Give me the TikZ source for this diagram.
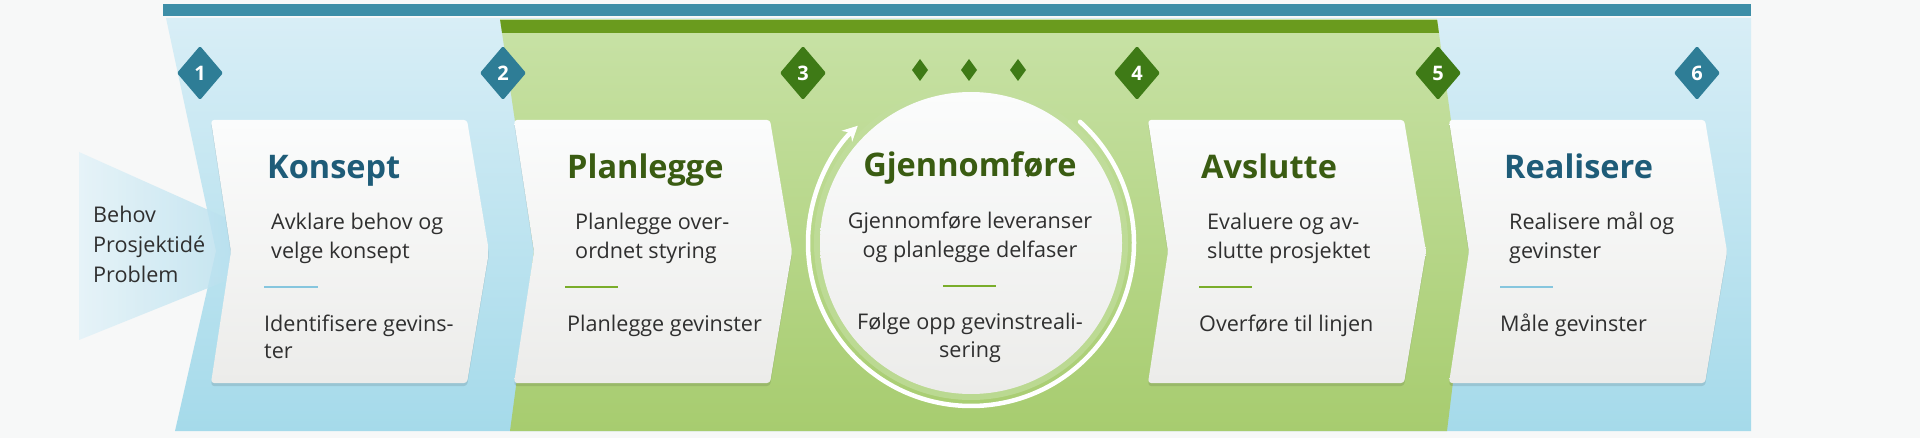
\documentclass[tikz,border=0pt]{standalone}
\usepackage{fontspec}
\setmainfont{Open Sans}
\usetikzlibrary{arrows.meta}
\definecolor{bg}{HTML}{F7F8F8}
\definecolor{tealbar}{HTML}{3D8EA7}
\definecolor{bluetop}{HTML}{D8EEF6}
\definecolor{bluebot}{HTML}{A5DAEA}
\definecolor{greentop}{HTML}{C8E2A6}
\definecolor{greenbot}{HTML}{A7CC6F}
\definecolor{greenbar}{HTML}{6A9B1E}
\definecolor{tealdia}{HTML}{2E7D96}
\definecolor{dgreen}{HTML}{3E7A16}
\definecolor{ttlblue}{HTML}{1E5C78}
\definecolor{ttlgreen}{HTML}{3A5C12}
\definecolor{bodytxt}{HTML}{2F2F2F}
\definecolor{divblue}{HTML}{86C6DE}
\definecolor{divgreen}{HTML}{7AAD2A}
\definecolor{cardtop}{HTML}{FBFCFC}
\definecolor{cardbot}{HTML}{ECECEA}
\definecolor{trileft}{HTML}{E2F2F8}
\definecolor{triright}{HTML}{A6D8EA}
\definecolor{halo}{HTML}{C2DE9E}
\newcommand\cardshape[2]{\path[#2] (#1,120) -- ++(256,0) -- ++(22,131.5) -- ++(-22,131.5) -- ++(-256,0) -- ++(20,-131.5) -- cycle;}
\newcommand\dia[5]{\fill[#4, rounded corners=1.5pt] (#1,#2) ++(0,-27) -- ++(23,27) -- ++(-23,27) -- ++(-23,-27) -- cycle;
  \node[digit] (#3) at (#1,#2) {#5};}
\begin{document}
\begin{tikzpicture}[x=1pt,y=-1pt,
  digit/.style={font=\bfseries\fontsize{20}{20}\selectfont, text=white, inner sep=0pt},
  ttl/.style={font=\bfseries\fontsize{32.5}{32.5}\selectfont, anchor=base west, inner sep=0pt},
  txt/.style={font=\fontsize{21.6}{29}\selectfont, text=bodytxt, anchor=base west, inner sep=0pt},
  ctxt/.style={txt, anchor=base},
  divider/.style={line width=2.5pt}]
\useasboundingbox (0,0) rectangle (1920,438);
\fill[bg] (0,0) rectangle (1920,438);
% top bar
\fill[tealbar] (163,4) rectangle (1751,16);
% blue band
\shade[top color=bluetop, bottom color=bluebot] (166,18) -- (1751,18) -- (1751,431) -- (175,431) -- (216,251) -- cycle;
% green band
\shade[top color=greentop, bottom color=greenbot] (500,19) -- (1437,19) -- (1469,251) -- (1447,431) -- (510,431) -- (534,251) -- cycle;
\begin{scope}
  \clip (500,19) -- (1437,19) -- (1469,251) -- (1447,431) -- (510,431) -- (534,251) -- cycle;
  \fill[greenbar] (490,20) rectangle (1450,33);
\end{scope}
% input triangle
\shade[left color=trileft, right color=triright, fill opacity=0.8] (79,152) -- (300,251) -- (79,340) -- cycle;
\node[txt] (behov) at (93,223) {Behov};
\node[txt] (ide) at (93,253) {Prosjektidé};
\node[txt] (problem) at (93,283) {Problem};
% diamonds
\dia{200}{73}{d1}{tealdia}{1}
\dia{503}{73}{d2}{tealdia}{2}
\dia{803}{73}{d3}{dgreen}{3}
\dia{1137}{73}{d4}{dgreen}{4}
\dia{1438}{73}{d5}{dgreen}{5}
\dia{1697}{73}{d6}{tealdia}{6}
\fill[dgreen] (920,59) -- (928,70) -- (920,81) -- (912,70) -- cycle;
\fill[dgreen] (969,59) -- (977,70) -- (969,81) -- (961,70) -- cycle;
\fill[dgreen] (1018,59) -- (1026,70) -- (1018,81) -- (1010,70) -- cycle;
% card shadows
\cardshape{211}{fill=black, fill opacity=0.10, rounded corners=3pt, yshift=-3pt}
\cardshape{514}{fill=black, fill opacity=0.10, rounded corners=3pt, yshift=-3pt}
\cardshape{1148}{fill=black, fill opacity=0.10, rounded corners=3pt, yshift=-3pt}
\cardshape{1449}{fill=black, fill opacity=0.10, rounded corners=3pt, yshift=-3pt}
% cards
\cardshape{211}{shade, top color=cardtop, bottom color=cardbot, rounded corners=3pt}
\cardshape{514}{shade, top color=cardtop, bottom color=cardbot, rounded corners=3pt}
\cardshape{1148}{shade, top color=cardtop, bottom color=cardbot, rounded corners=3pt}
\cardshape{1449}{shade, top color=cardtop, bottom color=cardbot, rounded corners=3pt}
% circle
\fill[halo, fill opacity=0.7] (971,243) circle[radius=157];
\shade[top color=cardtop, bottom color=cardbot] (971,243) circle[radius=151];
\draw[white, line width=4.5pt, line cap=round, -{Stealth[length=15pt,width=15pt,inset=5pt]}] (971,243) ++(-48:163) arc[start angle=-48, end angle=226, radius=163];
% card 1
\node[ttl, text=ttlblue] (t1) at (267,179) {Konsept};
\node[txt] (a1) at (271,230) {Avklare behov og};
\node[txt] (b1) at (271,259) {velge konsept};
\draw[divider, divblue] (264,287) -- (318,287);
\node[txt] (c1) at (264,331) {Identifisere gevins-};
\node[txt] (e1) at (264,359) {ter};
% card 2
\node[ttl, text=ttlgreen] (t2) at (567,179) {Planlegge};
\node[txt] (a2) at (575,230) {Planlegge over-};
\node[txt] (b2) at (575,259) {ordnet styring};
\draw[divider, divgreen] (565,287) -- (618,287);
\node[txt] (c2) at (567,331) {Planlegge gevinster};
% circle text
\node[ttl, anchor=base, text=ttlgreen] (t3) at (970,177) {Gjennomføre};
\node[ctxt] (a3) at (970,229) {Gjennomføre leveranser};
\node[ctxt] (b3) at (970,258) {og planlegge delfaser};
\draw[divider, divgreen] (943,286) -- (996,286);
\node[ctxt] (c3) at (970,330) {Følge opp gevinstreali-};
\node[ctxt] (e3) at (970,358) {sering};
% card 4
\node[ttl, text=ttlgreen] (t4) at (1201,179) {Avslutte};
\node[txt] (a4) at (1207,230) {Evaluere og av-};
\node[txt] (b4) at (1207,259) {slutte prosjektet};
\draw[divider, divgreen] (1199,287) -- (1252,287);
\node[txt] (c4) at (1199,331) {Overføre til linjen};
% card 5
\node[ttl, text=ttlblue] (t5) at (1504,179) {Realisere};
\node[txt] (a5) at (1509,230) {Realisere mål og};
\node[txt] (b5) at (1509,259) {gevinster};
\draw[divider, divblue] (1500,287) -- (1553,287);
\node[txt] (c5) at (1500,331) {Måle gevinster};
\end{tikzpicture}
\end{document}
